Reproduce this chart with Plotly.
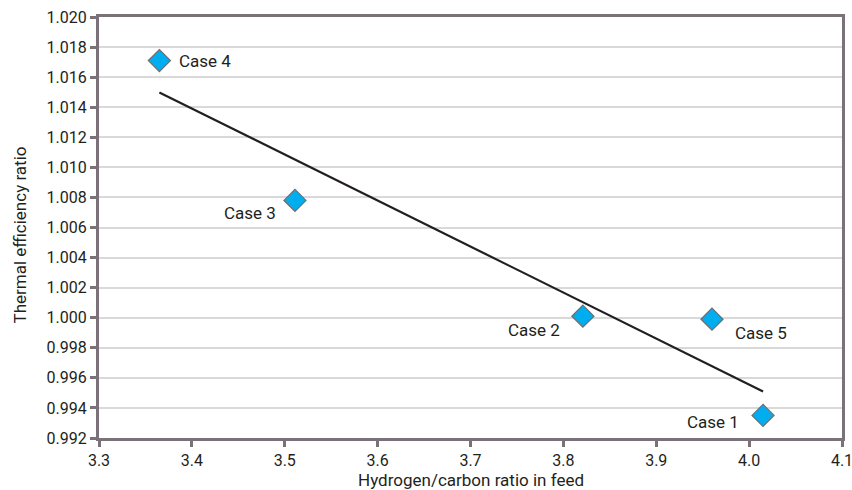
import numpy as np
import plotly.graph_objects as go

cases = ["Case 1", "Case 2", "Case 3", "Case 4", "Case 5"]
hc_ratio = [4.015, 3.821, 3.511, 3.365, 3.960]
eff_ratio = [0.9935, 1.0001, 1.0078, 1.0171, 0.9999]

x_ticks = [3.3, 3.4, 3.5, 3.6, 3.7, 3.8, 3.9, 4.0, 4.1]
y_ticks = [0.992, 0.994, 0.996, 0.998, 1.000, 1.002, 1.004, 1.006, 1.008,
           1.010, 1.012, 1.014, 1.016, 1.018, 1.020]

x_title = "Hydrogen/carbon ratio in feed"
y_title = "Thermal efficiency ratio"

# label placement (pixel shifts, anchors) - style only
label_style = {
    "Case 1": dict(xanchor="right", xshift=-22, yshift=-7),
    "Case 2": dict(xanchor="right", xshift=-21, yshift=-14),
    "Case 3": dict(xanchor="right", xshift=-17, yshift=-13),
    "Case 4": dict(xanchor="left", xshift=18, yshift=0),
    "Case 5": dict(xanchor="left", xshift=21, yshift=-14),
}

slope, intercept = np.polyfit(hc_ratio, eff_ratio, 1)
xfit = np.array([min(hc_ratio), max(hc_ratio)])
yfit = slope * xfit + intercept

FONT = "Roboto, Liberation Sans, Arial, sans-serif"
TXT = "#231f20"

fig = go.Figure()
fig.add_trace(go.Scatter(x=xfit, y=yfit, mode="lines",
                         line=dict(color=TXT, width=2.2),
                         showlegend=False, hoverinfo="skip"))
fig.add_trace(go.Scatter(x=hc_ratio, y=eff_ratio, mode="markers",
                         marker=dict(symbol="diamond", size=17, color="#00aeef",
                                     line=dict(color="#6d6e71", width=1.2)),
                         showlegend=False))

for c, x, y in zip(cases, hc_ratio, eff_ratio):
    fig.add_annotation(x=x, y=y, text=c, showarrow=False,
                       font=dict(size=17, color=TXT, family=FONT),
                       yanchor="middle", **label_style[c])

# axis titles
fig.add_annotation(xref="paper", yref="paper", x=0.5, y=0, text=x_title,
                   showarrow=False, xanchor="center", yanchor="middle",
                   yshift=-42, font=dict(size=17, color=TXT, family=FONT))
fig.add_annotation(xref="paper", yref="paper", x=0, y=0.5, text=y_title,
                   showarrow=False, xanchor="center", yanchor="middle",
                   textangle=-90, xshift=-80, yshift=-8,
                   font=dict(size=17, color=TXT, family=FONT))

axis_col = "#7a7278"
fig.update_xaxes(range=[3.3, 4.1], tickvals=x_ticks,
                 ticktext=[f"{v:.1f}" for v in x_ticks],
                 showgrid=False, zeroline=False, automargin=False,
                 ticklabeloverflow="allow",
                 showline=True, linecolor=axis_col, linewidth=3, mirror=True,
                 ticks="outside", ticklen=6, tickwidth=3, tickcolor=axis_col,
                 tickfont=dict(size=16, color=TXT, family=FONT))
fig.update_yaxes(range=[0.992, 1.020], tickvals=y_ticks,
                 ticktext=[f"{v:.3f}" for v in y_ticks],
                 showgrid=True, gridcolor="#d9d9d9", gridwidth=1.5, zeroline=False,
                 automargin=False, ticklabeloverflow="allow",
                 showline=True, linecolor=axis_col, linewidth=3, mirror=True,
                 ticks="outside", ticklen=6, tickwidth=3, tickcolor=axis_col,
                 tickfont=dict(size=16, color=TXT, family=FONT))

fig.update_layout(width=852, height=490,
                  margin=dict(l=99, r=10, t=17, b=52),
                  plot_bgcolor="white", paper_bgcolor="white",
                  font=dict(family=FONT))

fig.write_html("out.html",
               config={"displayModeBar": False},
               post_script="document.body.style.margin='0';"
                           "document.body.style.overflow='hidden';")
